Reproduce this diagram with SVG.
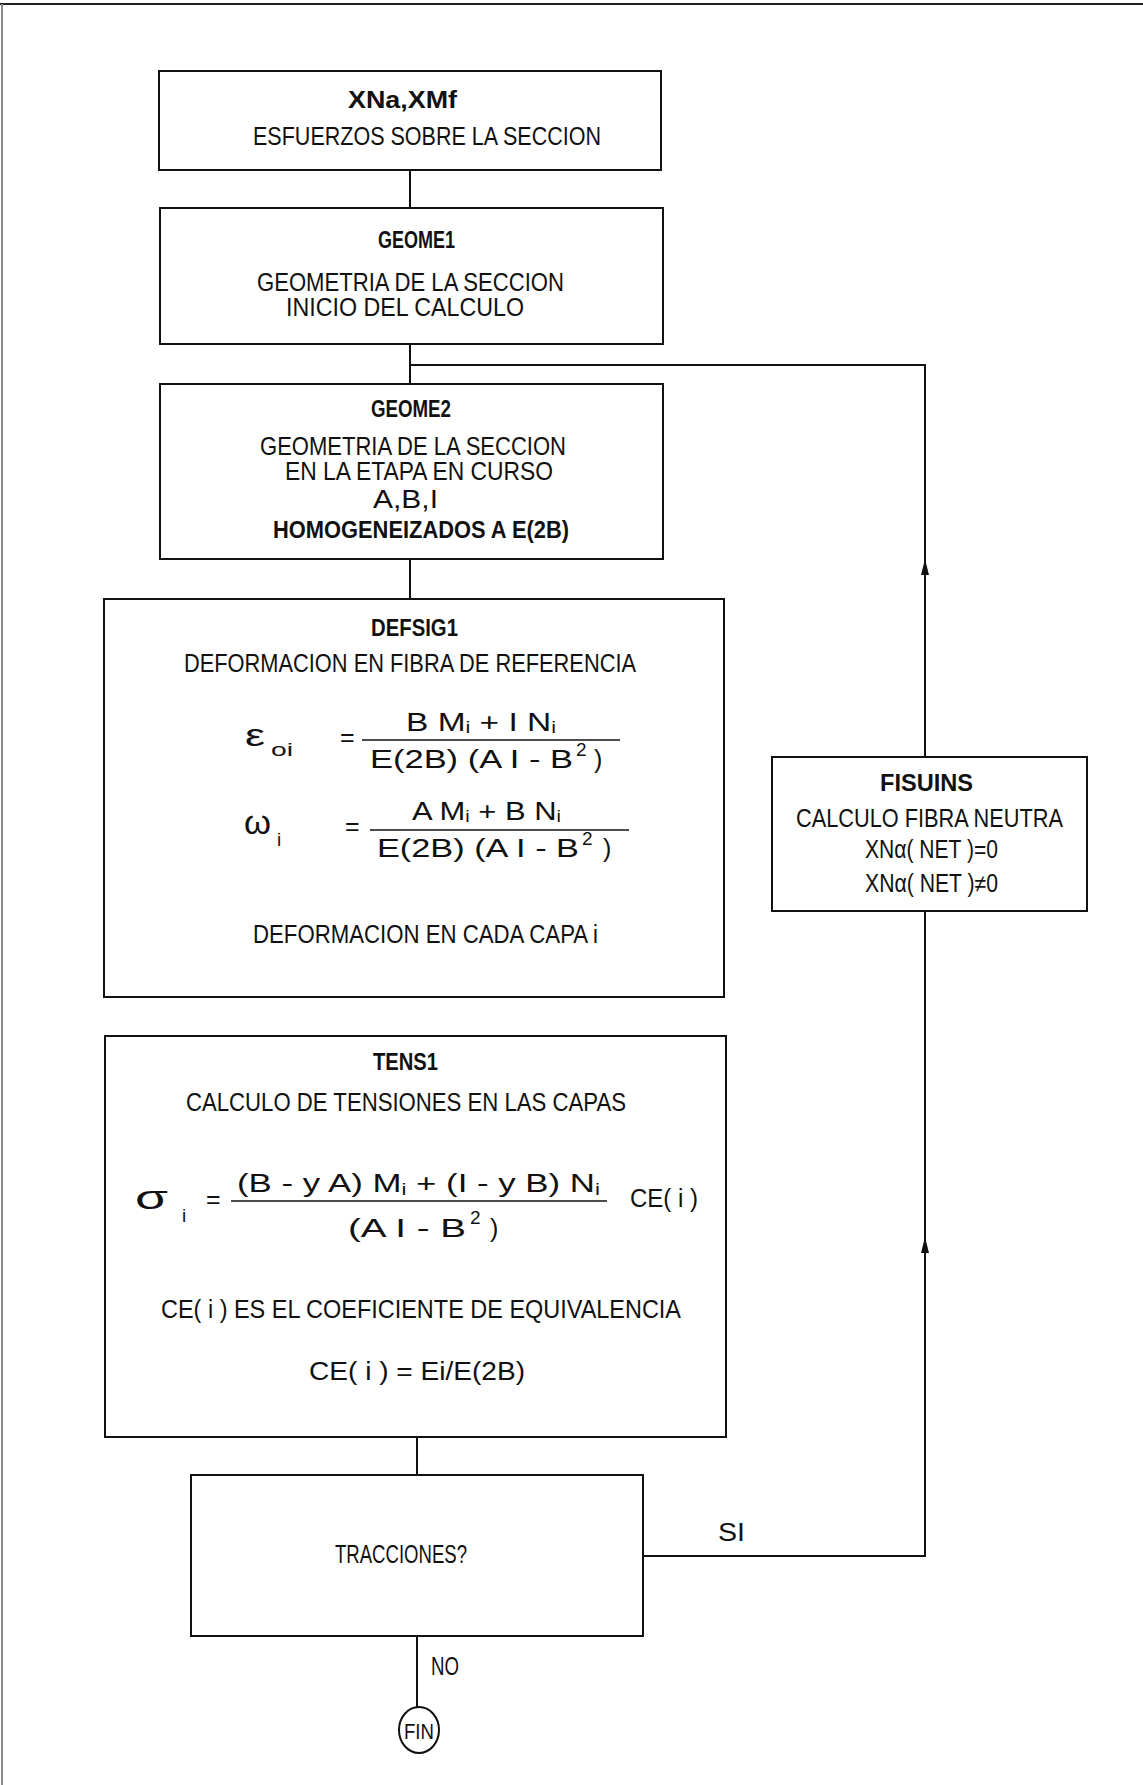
<svg xmlns="http://www.w3.org/2000/svg" width="1143" height="1785" viewBox="0 0 1143 1785">
<style>
text{font-family:"Liberation Sans","DejaVu Sans",sans-serif;font-size:25px;fill:#111}
.h{font-weight:bold;font-size:24px}
.s{font-size:16px}
.sup{font-size:19px}
.box{fill:#fff;stroke:#111;stroke-width:2}
.ln{fill:none;stroke:#111;stroke-width:2}
.fr{stroke:#111;stroke-width:1.5}
</style>
<defs>
<polygon id="ah" points="0,-9 4,7 -4,7" fill="#111"/>
</defs>
<rect width="1143" height="1785" fill="#fff"/>
<g id="border">
<line x1="0" y1="4" x2="1143" y2="4" stroke="#222" stroke-width="2"/>
<line x1="2" y1="4" x2="2" y2="1785" stroke="#888" stroke-width="2"/>
</g>
<g id="connectors">
<path class="ln" d="M410,170V208"/>
<path class="ln" d="M410,344V384"/>
<path class="ln" d="M410,365H925V757"/>
<path class="ln" d="M410,559V599"/>
<path class="ln" d="M417,1437V1475"/>
<path class="ln" d="M643,1556H925V911"/>
<path class="ln" d="M417,1636V1707"/>
<use href="#ah" x="925" y="568"/>
<use href="#ah" x="925" y="1246"/>
<text x="718" y="1541" textLength="27" lengthAdjust="spacingAndGlyphs">SI</text>
<text x="431" y="1675" textLength="28" lengthAdjust="spacingAndGlyphs">NO</text>
</g>
<g id="n1">
<rect class="box" x="159" y="71" width="502" height="99"/>
<text class="h" x="348" y="108" textLength="109" lengthAdjust="spacingAndGlyphs">XNa,XMf</text>
<text x="253" y="145" textLength="348" lengthAdjust="spacingAndGlyphs">ESFUERZOS SOBRE LA SECCION</text>
</g>
<g id="n2">
<rect class="box" x="160" y="208" width="503" height="136"/>
<text class="h" x="378" y="248" textLength="77" lengthAdjust="spacingAndGlyphs">GEOME1</text>
<text x="257" y="291" textLength="307" lengthAdjust="spacingAndGlyphs">GEOMETRIA DE LA SECCION</text>
<text x="286" y="316" textLength="238" lengthAdjust="spacingAndGlyphs">INICIO DEL CALCULO</text>
</g>
<g id="n3">
<rect class="box" x="160" y="384" width="503" height="175"/>
<text class="h" x="371" y="417" textLength="80" lengthAdjust="spacingAndGlyphs">GEOME2</text>
<text x="260" y="455" textLength="306" lengthAdjust="spacingAndGlyphs">GEOMETRIA DE LA SECCION</text>
<text x="285" y="480" textLength="268" lengthAdjust="spacingAndGlyphs">EN LA ETAPA EN CURSO</text>
<text x="373" y="508" textLength="65" lengthAdjust="spacingAndGlyphs">A,B,I</text>
<text class="h" x="273" y="538" textLength="296" lengthAdjust="spacingAndGlyphs">HOMOGENEIZADOS A E(2B)</text>
</g>
<g id="n4">
<rect class="box" x="104" y="599" width="620" height="398"/>
<text class="h" x="371" y="636" textLength="87" lengthAdjust="spacingAndGlyphs">DEFSIG1</text>
<text x="184" y="672" textLength="452" lengthAdjust="spacingAndGlyphs">DEFORMACION EN FIBRA DE REFERENCIA</text>
<text x="245" y="746" style="font-size:32px" textLength="20" lengthAdjust="spacingAndGlyphs">ε</text>
<text class="sup" x="271" y="756" textLength="22" lengthAdjust="spacingAndGlyphs">oi</text>
<text x="340" y="746">=</text>
<text x="406" y="731" textLength="150" lengthAdjust="spacingAndGlyphs">B M<tspan class="s" dy="2">i</tspan><tspan dy="-2"> + I N</tspan><tspan class="s" dy="2">i</tspan></text>
<line class="fr" x1="362" y1="740" x2="620" y2="740"/>
<text x="370" y="768" textLength="203" lengthAdjust="spacingAndGlyphs">E(2B) (A I - B</text>
<text class="sup" x="576" y="756">2</text>
<text x="594" y="768">)</text>
<text x="244" y="834" style="font-size:34px" textLength="27" lengthAdjust="spacingAndGlyphs">ω</text>
<text class="sup" x="277" y="846">i</text>
<text x="345" y="835">=</text>
<text x="412" y="820" textLength="149" lengthAdjust="spacingAndGlyphs">A M<tspan class="s" dy="2">i</tspan><tspan dy="-2"> + B N</tspan><tspan class="s" dy="2">i</tspan></text>
<line class="fr" x1="370" y1="830" x2="629" y2="830"/>
<text x="377" y="857" textLength="202" lengthAdjust="spacingAndGlyphs">E(2B) (A I - B</text>
<text class="sup" x="582" y="845">2</text>
<text x="603" y="857">)</text>
<text x="253" y="943" textLength="345" lengthAdjust="spacingAndGlyphs">DEFORMACION EN CADA CAPA i</text>
</g>
<g id="n5">
<rect class="box" x="105" y="1036" width="621" height="401"/>
<text class="h" x="373" y="1070" textLength="65" lengthAdjust="spacingAndGlyphs">TENS1</text>
<text x="186" y="1111" textLength="440" lengthAdjust="spacingAndGlyphs">CALCULO DE TENSIONES EN LAS CAPAS</text>
<text x="135" y="1209" style="font-size:34px" textLength="33" lengthAdjust="spacingAndGlyphs">σ</text>
<text class="sup" x="182" y="1222">i</text>
<text x="206" y="1208">=</text>
<text x="237" y="1192" textLength="363" lengthAdjust="spacingAndGlyphs">(B - y A) M<tspan class="s" dy="3">i</tspan><tspan dy="-3"> + (I - y B) N</tspan><tspan class="s" dy="3">i</tspan></text>
<line class="fr" x1="231" y1="1201" x2="607" y2="1201"/>
<text x="348" y="1237" textLength="118" lengthAdjust="spacingAndGlyphs">(A I - B</text>
<text class="sup" x="470" y="1224">2</text>
<text x="490" y="1237">)</text>
<text x="630" y="1207" textLength="68" lengthAdjust="spacingAndGlyphs">CE( i )</text>
<text x="161" y="1318" textLength="520" lengthAdjust="spacingAndGlyphs">CE( i ) ES EL COEFICIENTE DE EQUIVALENCIA</text>
<text x="309" y="1380" textLength="216" lengthAdjust="spacingAndGlyphs">CE( i ) = Ei/E(2B)</text>
</g>
<g id="n6">
<rect class="box" x="191" y="1475" width="452" height="161"/>
<text x="335" y="1563" textLength="132" lengthAdjust="spacingAndGlyphs">TRACCIONES?</text>
</g>
<g id="n7">
<rect class="box" x="772" y="757" width="315" height="154"/>
<text class="h" x="880" y="791" textLength="93" lengthAdjust="spacingAndGlyphs">FISUINS</text>
<text x="796" y="827" textLength="267" lengthAdjust="spacingAndGlyphs">CALCULO FIBRA NEUTRA</text>
<text x="865" y="858" textLength="133" lengthAdjust="spacingAndGlyphs">XNα( NET )=0</text>
<text x="865" y="892" textLength="133" lengthAdjust="spacingAndGlyphs">XNα( NET )≠0</text>
</g>
<g id="n8">
<ellipse class="box" cx="419" cy="1730" rx="20" ry="23"/>
<text x="404" y="1739" textLength="30" lengthAdjust="spacingAndGlyphs" style="font-size:22px">FIN</text>
</g>
</svg>
